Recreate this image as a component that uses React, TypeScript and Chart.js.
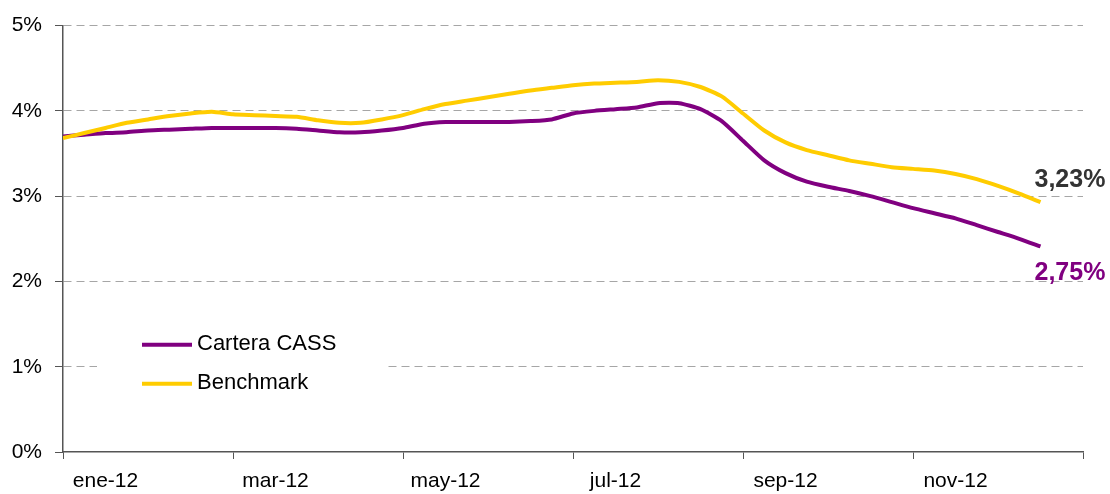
import React, { useEffect, useRef } from "react";
import { Chart, registerables } from "chart.js";

Chart.register(...registerables);

// x positions in months since 1 Jan 2012 (weekly-ish samples)
const months = [
  0, 0.25, 0.5, 0.75, 1, 1.25, 1.5, 1.75, 2, 2.25, 2.5, 2.75, 3, 3.25, 3.5, 3.75,
  4, 4.25, 4.5, 4.75, 5, 5.25, 5.5, 5.75, 6, 6.25, 6.5, 6.75, 7, 7.25, 7.5, 7.75,
  8, 8.25, 8.5, 8.75, 9, 9.25, 9.5, 9.75, 10, 10.25, 10.5, 10.75, 11, 11.25, 11.5,
];

const carteraValues = [
  3.7, 3.72, 3.74, 3.75, 3.77, 3.78, 3.79, 3.8, 3.8, 3.8, 3.8, 3.79, 3.77, 3.75, 3.75, 3.77,
  3.8, 3.85, 3.87, 3.87, 3.87, 3.87, 3.88, 3.9, 3.97, 4.0, 4.02, 4.04, 4.09, 4.09, 4.02, 3.88,
  3.65, 3.42, 3.27, 3.17, 3.11, 3.06, 3.0, 2.93, 2.86, 2.8, 2.74, 2.66, 2.58, 2.5, 2.41,
];

const benchmarkValues = [
  3.68, 3.74, 3.8, 3.86, 3.9, 3.94, 3.97, 3.99, 3.96, 3.95, 3.94, 3.93, 3.89, 3.86, 3.86, 3.9,
  3.95, 4.02, 4.08, 4.12, 4.16, 4.2, 4.24, 4.27, 4.3, 4.32, 4.33, 4.34, 4.36, 4.34, 4.28, 4.17,
  3.97, 3.77, 3.63, 3.54, 3.48, 3.42, 3.38, 3.34, 3.32, 3.3, 3.26, 3.2, 3.12, 3.03, 2.93,
];

const xTickLabels = ["ene-12", "mar-12", "may-12", "jul-12", "sep-12", "nov-12"];
const seriesNames = ["Cartera CASS", "Benchmark"];
const endLabels = ["2,75%", "3,23%"];

const PURPLE = "#800080";
const YELLOW = "#FFCC00";
const FONT = "'Liberation Sans', Arial, sans-serif";

const overlayPlugin = {
  id: "overlay",
  afterDatasetsDraw(chart: any) {
    const { ctx, chartArea, scales } = chart;
    const xs = scales.x;
    const ys = scales.y;
    ctx.save();
    // legend box
    const bx = chartArea.left + 34;
    const by = ys.getPixelForValue(1) - 44;
    ctx.fillStyle = "#ffffff";
    ctx.fillRect(bx, by, 288, 82);
    const items = [
      { name: seriesNames[0], color: PURPLE, dy: 22 },
      { name: seriesNames[1], color: YELLOW, dy: 61 },
    ];
    ctx.font = `22px ${FONT}`;
    ctx.textBaseline = "middle";
    ctx.textAlign = "left";
    for (const it of items) {
      ctx.strokeStyle = it.color;
      ctx.lineWidth = 4;
      ctx.beginPath();
      ctx.moveTo(bx + 45, by + it.dy);
      ctx.lineTo(bx + 95, by + it.dy);
      ctx.stroke();
      ctx.fillStyle = "#000";
      ctx.fillText(it.name, bx + 100, by + it.dy - 1);
    }
    // end labels
    const last = months.length - 1;
    const lx = xs.getPixelForValue(months[last]) - 6;
    ctx.font = `bold 25px ${FONT}`;
    ctx.fillStyle = "#333333";
    ctx.fillText(endLabels[1], lx, ys.getPixelForValue(benchmarkValues[last]) - 22);
    ctx.fillStyle = PURPLE;
    ctx.fillText(endLabels[0], lx, ys.getPixelForValue(carteraValues[last]) + 27);
    ctx.restore();
  },
};

export default function App() {
  const ref = useRef<HTMLCanvasElement>(null);
  useEffect(() => {
    if (!ref.current) return;
    Chart.defaults.font.family = FONT;
    const chart = new Chart(ref.current, {
      type: "line",
      data: {
        datasets: [
          {
            label: seriesNames[1],
            data: months.map((m, i) => ({ x: m, y: benchmarkValues[i] })),
            borderColor: YELLOW,
            borderWidth: 4,
            pointRadius: 0,
            tension: 0.2,
            fill: false,
          },
          {
            label: seriesNames[0],
            data: months.map((m, i) => ({ x: m, y: carteraValues[i] })),
            borderColor: PURPLE,
            borderWidth: 4,
            pointRadius: 0,
            tension: 0.2,
            fill: false,
          },
        ],
      },
      options: {
        responsive: false,
        animation: false,
        layout: { padding: { top: 25, right: 27, left: 0, bottom: 0 } },
        plugins: { legend: { display: false }, tooltip: { enabled: false } },
        scales: {
          x: {
            type: "linear",
            min: 0,
            max: 12,
            afterFit: (s: any) => {
              s.height = 42;
            },
            ticks: {
              stepSize: 0.5,
              autoSkip: false,
              maxRotation: 0,
              padding: 10,
              color: "#000",
              font: { size: 21, family: FONT },
              callback: (v: any) => {
                const n = Number(v);
                const r = n % 2;
                if (Math.abs(r - 0.5) < 1e-6) return xTickLabels[Math.round((n - 0.5) / 2)];
                return "";
              },
            },
            grid: {
              drawOnChartArea: false,
              drawTicks: true,
              tickLength: 7,
              tickColor: (c: any) =>
                Math.abs(c.tick.value % 2) < 1e-6 ? "#555555" : "rgba(0,0,0,0)",
            },
            border: { color: "#555555", width: 1.5 },
          },
          y: {
            min: 0,
            max: 5,
            afterFit: (s: any) => {
              s.width = 63;
            },
            ticks: {
              stepSize: 1,
              padding: 13,
              color: "#000",
              font: { size: 21, family: FONT },
              callback: (v: any) => `${v}%`,
            },
            grid: {
              color: (c: any) => (c.tick && c.tick.value === 0 ? "rgba(0,0,0,0)" : "#a6a6a6"),
              tickColor: "#555555",
              tickLength: 8,
              lineWidth: 1,
            },
            border: { color: "#555555", width: 1.5, dash: [8, 5] },
          },
        },
      },
      plugins: [overlayPlugin],
    } as any);
    return () => chart.destroy();
  }, []);
  return (
    <div style={{ position: "absolute", left: 0, top: 0, width: 1110, height: 494, background: "#fff" }}>
      <canvas ref={ref} width={1110} height={494} style={{ display: "block" }} />
    </div>
  );
}
